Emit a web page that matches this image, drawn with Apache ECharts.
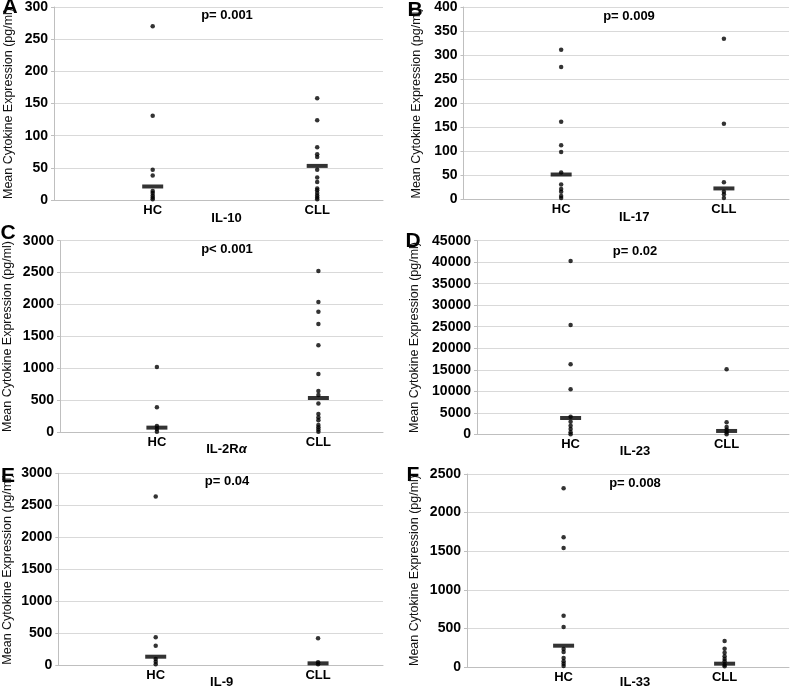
<!DOCTYPE html>
<html>
<head>
<meta charset="utf-8">
<script src="https://cdn.jsdelivr.net/npm/echarts@6/dist/echarts.min.js"></script>
<style>
html,body{margin:0;padding:0;background:#fff;}
#chart{width:794px;height:690px;}
</style>
</head>
<body>
<div id="chart"></div>
<script>
// ---- data ----
const groups = ['HC', 'CLL'];
const panelLetters = ['A', 'B', 'C', 'D', 'E', 'F'];
const cytokines = ['IL-10', 'IL-17', 'IL-2R{i|α}', 'IL-23', 'IL-9', 'IL-33'];
const pValues = ['p= 0.001', 'p= 0.009', 'p< 0.001', 'p= 0.02', 'p= 0.04', 'p= 0.008'];
const yAxisTitle = 'Mean Cytokine Expression (pg/ml)';
const yMaxTicks = [300, 400, 3000, 45000, 3000, 2500];
const yTickSteps = [50, 50, 500, 5000, 500, 500];

const il10HC = [270, 131, 47, 38, 14, 11, 7, 4, 1];
const il10CLL = [158, 124, 82, 71, 67, 47, 35, 28, 18, 15, 11, 7, 4, 1];
const il10Means = [21, 53];

const il17HC = [311, 275, 161, 112, 98, 55, 30, 21, 15, 6, 2];
const il17CLL = [334, 157, 35, 15, 10, 2];
const il17Means = [51, 22];

const il2raHC = [1023, 391, 99, 52, 10];
const il2raCLL = [2525, 2040, 1889, 1696, 1362, 913, 647, 584, 449, 287, 230, 188, 115, 78, 42, 10];
const il2raMeans = [73, 537];

const il23HC = [40275, 25400, 16265, 10456, 4105, 2943, 2014, 1240, 465, 0];
const il23CLL = [15103, 2788, 1704, 1084, 465, 0];
const il23Means = [3795, 775];

const il9HC = [2635, 433, 303, 94, 52, 10];
const il9CLL = [417, 42, 10];
const il9Means = [130, 26];

const il33HC = [2315, 1681, 1543, 664, 517, 233, 194, 116, 73, 43, 13];
const il33CLL = [336, 237, 185, 138, 103, 73, 30, 9];
const il33Means = [276, 43];

const hcSets = [il10HC, il17HC, il2raHC, il23HC, il9HC, il33HC];
const cllSets = [il10CLL, il17CLL, il2raCLL, il23CLL, il9CLL, il33CLL];
const meanSets = [il10Means, il17Means, il2raMeans, il23Means, il9Means, il33Means];

// ---- layout ----
const FONT = '"Liberation Sans", Arial, Helvetica, sans-serif';
const grids = [
  {left: 54, top: 6, width: 329, height: 194},
  {left: 463.5, top: 6.7, width: 325.5, height: 192.3},
  {left: 60, top: 240.7, width: 323, height: 191.6},
  {left: 477, top: 240.7, width: 312, height: 193.6},
  {left: 58.3, top: 473.3, width: 324.7, height: 191.7},
  {left: 467, top: 474, width: 322, height: 193.3}
];
const yNameGaps = [39, 40, 46, 56, 44, 46];
const xNameGaps = [12, 12, 11, 11, 11, 9];
const xNameShift = [16, 16, 10, 4, 2, 14];
const pPos = [[227, 15], [629, 16.7], [227, 249], [635, 251], [227, 481.7], [635, 483.3]];
const letterPos = [[10, 7], [415, 10], [8, 233], [413, 241], [8, 476], [413, 475]];

const gridLine = '#d9d9d9';
const axisGray = '#bfbfbf';
const ink = '#000';

const xAxes = [], yAxes = [], series = [], graphics = [];
grids.forEach((g, i) => {
  xAxes.push({
    type: 'value', gridIndex: i, min: 0.4, max: 2.4,
    axisLine: {show: true, lineStyle: {color: axisGray, width: 1}},
    axisTick: {show: false},
    splitLine: {show: false},
    axisLabel: {
      customValues: [1, 2],
      formatter: v => groups[Math.round(v) - 1] || '',
      color: ink, fontFamily: FONT, fontWeight: 'bold', fontSize: 13, margin: 4
    },
    name: cytokines[i], nameLocation: 'middle', nameGap: xNameGaps[i],
    nameMoveOverlap: false,
    nameTextStyle: {
      color: ink, fontFamily: FONT, fontWeight: 'bold', fontSize: 13,
      padding: [0, 0, 0, xNameShift[i]],
      rich: {i: {fontStyle: 'italic', fontWeight: 'bold', fontFamily: FONT, fontSize: 13, color: ink}}
    }
  });
  yAxes.push({
    type: 'value', gridIndex: i, min: 0, max: yMaxTicks[i], interval: yTickSteps[i],
    axisLine: {show: true, lineStyle: {color: axisGray, width: 1}},
    axisTick: {show: true, length: 3, lineStyle: {color: axisGray}},
    splitLine: {show: true, lineStyle: {color: gridLine, width: 1}},
    axisLabel: {
      formatter: v => String(v),
      color: ink, fontFamily: FONT, fontWeight: 'bold', fontSize: 14, margin: 6
    },
    name: yAxisTitle, nameLocation: 'middle', nameGap: yNameGaps[i],
    nameMoveOverlap: false,
    nameTextStyle: {color: '#111', fontFamily: FONT, fontSize: 12.5}
  });
  series.push({
    type: 'scatter', xAxisIndex: i, yAxisIndex: i, symbol: 'circle', symbolSize: 4.5,
    itemStyle: {color: '#000'}, silent: true,
    data: hcSets[i].map(v => [1, v])
  });
  series.push({
    type: 'scatter', xAxisIndex: i, yAxisIndex: i, symbol: 'circle', symbolSize: 4.5,
    itemStyle: {color: '#000'}, silent: true,
    data: cllSets[i].map(v => [2, v])
  });
  series.push({
    type: 'scatter', xAxisIndex: i, yAxisIndex: i, symbol: 'rect', symbolSize: [21, 4],
    itemStyle: {color: '#000'}, silent: true, z: 3,
    data: meanSets[i].map((v, k) => [k + 1, v])
  });
  graphics.push({
    type: 'text', x: pPos[i][0], y: pPos[i][1],
    style: {text: pValues[i], font: 'bold 13px ' + FONT, fill: ink, align: 'center', verticalAlign: 'middle'}
  });
  graphics.push({
    type: 'text', x: letterPos[i][0], y: letterPos[i][1],
    style: {text: panelLetters[i], font: 'bold 21px ' + FONT, fill: '#000', align: 'center', verticalAlign: 'middle'}
  });
});

const chart = echarts.init(document.getElementById('chart'), null, {renderer: 'canvas'});
chart.setOption({
  animation: false,
  backgroundColor: '#fff',
  grid: grids.map(g => Object.assign({containLabel: false}, g)),
  xAxis: xAxes,
  yAxis: yAxes,
  series: series,
  graphic: graphics
});
</script>
</body>
</html>
